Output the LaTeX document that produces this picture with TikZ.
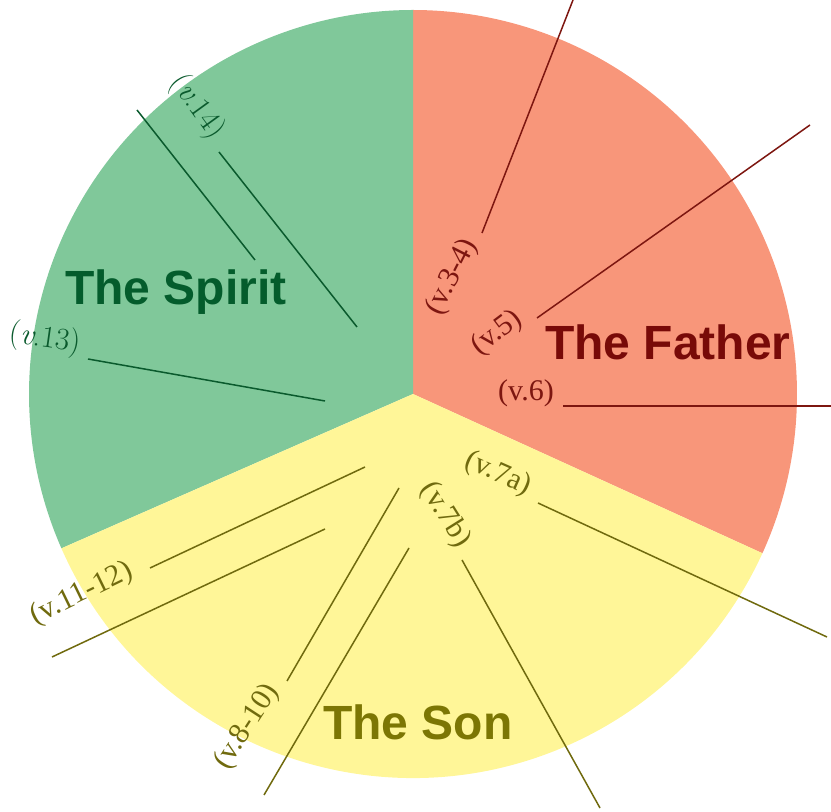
\documentclass[tikz,border=0pt]{standalone}
\usepackage{fontspec}
\newfontfamily\labelfont{Liberation Serif}
\newfontfamily\titlefont{Liberation Sans}
\newfontfamily\lmfont{Latin Modern Roman}
\definecolor{fatherfill}{RGB}{248,150,122}
\definecolor{spiritfill}{RGB}{128,200,154}
\definecolor{sonfill}{RGB}{255,246,152}
\definecolor{fatherink}{RGB}{120,10,8}
\definecolor{spiritink}{RGB}{4,92,44}
\definecolor{sonink}{RGB}{124,118,4}
\definecolor{fatherline}{RGB}{125,22,16}
\definecolor{spiritline}{RGB}{10,90,45}
\definecolor{sonline}{RGB}{112,106,14}
\tikzset{
  title/.style={font=\titlefont\bfseries\fontsize{48}{56}\selectfont, inner sep=0pt, anchor=base},
  verse/.style={font=\labelfont\fontsize{30}{36}\selectfont, inner sep=0pt},
  mverse/.style={font=\lmfont\fontsize{31}{37}\selectfont, inner sep=0pt},
  ref/.style={line width=1.5pt},
}
\begin{document}
\begin{tikzpicture}[x=1pt,y=1pt]
\useasboundingbox (0,0) rectangle (831,812);
\clip (0,0) rectangle (831,812);
\coordinate (C) at (413,418);
% sectors
\fill[fatherfill] (C) -- ++(-24.5:384) arc[start angle=-24.5, end angle=90, radius=384] -- cycle;
\fill[spiritfill] (C) -- ++(90:384) arc[start angle=90, end angle=203.7, radius=384] -- cycle;
\fill[sonfill] (C) -- ++(203.7:384) arc[start angle=203.7, end angle=335.5, radius=384] -- cycle;
% titles
\node[title, text=spiritink] (spirit) at (176,507) {The Spirit};
\node[title, text=fatherink] (father) at (668,452) {The Father};
\node[title, text=sonink] (son) at (418,72) {The Son};
% verse labels
\node[verse, text=fatherline, rotate=63] (l34) at (452,535) {(v.3-4)};
\node[verse, text=fatherline, rotate=37] (l5) at (497,479) {(v.5)};
\node[verse, text=fatherline] (l6) at (526,419) {(v.6)};
\node[verse, text=sonline, rotate=-24] (l7a) at (498,338) {(v.7a)};
\node[verse, text=sonline, rotate=-58] (l7b) at (445,297) {(v.7b)};
\node[verse, text=sonline, rotate=57] (l810) at (247,85) {(v.8-10)};
\node[verse, text=sonline, rotate=26] (l1112) at (82,218) {(v.11-12)};
\node[mverse, text=spiritline, rotate=-8] (l13) at (45,473) {(\textit{v}.13)};
\node[mverse, text=spiritline, rotate=-54] (l14) at (197,705) {(\textit{v}.14)};
% line end points
\coordinate (a34) at (573,812); \coordinate (b34) at (482,579);
\coordinate (a5) at (810,687); \coordinate (b5) at (537,494);
\coordinate (a6) at (563,406); \coordinate (b6) at (831,406);
\coordinate (a7a) at (538,309); \coordinate (b7a) at (827,175);
\coordinate (a7b) at (462,252); \coordinate (b7b) at (600,4);
\coordinate (a810) at (399,324); \coordinate (b810) at (287,131);
\coordinate (c810) at (409,264); \coordinate (d810) at (264,17);
\coordinate (a1112) at (150,244); \coordinate (b1112) at (365,345);
\coordinate (c1112) at (52,155); \coordinate (d1112) at (325,283);
\coordinate (a13) at (88,453); \coordinate (b13) at (325,411);
\coordinate (a14) at (137,702); \coordinate (b14) at (255,552);
\coordinate (c14) at (219,660); \coordinate (d14) at (357,485);
% connectors
\draw[ref, fatherline] (a34) -- (b34);
\draw[ref, fatherline] (a5) -- (b5);
\draw[ref, fatherline] (a6) -- (b6);
\draw[ref, sonline] (a7a) -- (b7a);
\draw[ref, sonline] (a7b) -- (b7b);
\draw[ref, sonline] (a810) -- (b810);
\draw[ref, sonline] (c810) -- (d810);
\draw[ref, sonline] (a1112) -- (b1112);
\draw[ref, sonline] (c1112) -- (d1112);
\draw[ref, spiritline] (a13) -- (b13);
\draw[ref, spiritline] (a14) -- (b14);
\draw[ref, spiritline] (c14) -- (d14);
\end{tikzpicture}
\end{document}
